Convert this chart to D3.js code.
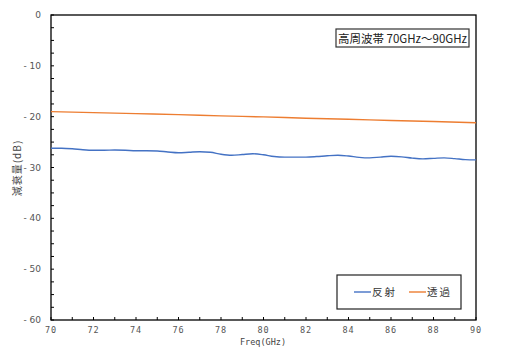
<!DOCTYPE html>
<html><head><meta charset="utf-8">
<script src="https://cdn.jsdelivr.net/npm/d3@7"></script>
<style>
html,body{margin:0;padding:0;background:#fff;}
svg{display:block;}
text{font-family:"Noto Sans CJK JP","DejaVu Sans",sans-serif;}
</style></head>
<body>
<svg id="chart" width="518" height="355"></svg>
<script>
const freqBlue = [70,70.5,71,71.5,72,72.5,73,73.5,74,74.5,75,75.5,76,76.5,77,77.5,78,78.5,79,79.5,80,80.5,81,81.5,82,82.5,83,83.5,84,84.5,85,85.5,86,86.5,87,87.5,88,88.5,89,89.5,90];
const reflect = [-26.2,-26.2,-26.3,-26.5,-26.6,-26.6,-26.55,-26.6,-26.7,-26.7,-26.75,-26.95,-27.1,-27.0,-26.9,-27.0,-27.4,-27.6,-27.45,-27.3,-27.5,-27.85,-27.95,-27.95,-27.95,-27.85,-27.7,-27.6,-27.75,-28.0,-28.1,-27.95,-27.8,-27.9,-28.15,-28.3,-28.2,-28.1,-28.25,-28.45,-28.5];
const freqOrange = [70,72,74,76,78,80,82,84,86,88,90];
const transmit = [-19.0,-19.2,-19.4,-19.6,-19.85,-20.05,-20.3,-20.5,-20.75,-20.95,-21.2];
const xTicks = [70,72,74,76,78,80,82,84,86,88,90];
const yTicks = [0,-10,-20,-30,-40,-50,-60];
const seriesNames = ["反射","透過"];
const colors = ["#4472C4","#ED7D31"];
const title = "高周波帯 70GHz〜90GHz";
const xLabel = "Freq(GHz)";
const yLabel = "減衰量(dB)";

const svg = d3.select("#chart");
const L=51, R=476, T=15, B=320;
const x = d3.scaleLinear().domain([70,90]).range([L,R]);
const y = d3.scaleLinear().domain([-60,0]).range([B,T]);
const mono = "'DejaVu Sans Mono','Liberation Mono',monospace";

// minor ticks
const g = svg.append("g");
d3.range(70,90.01,1).forEach(v=>{
  g.append("line").attr("x1",x(v)).attr("x2",x(v)).attr("y1",B).attr("y2",B-3).attr("stroke","#000").attr("stroke-width",1);
});
d3.range(-60,0.01,2.5).forEach(v=>{
  g.append("line").attr("x1",L).attr("x2",L+3).attr("y1",y(v)).attr("y2",y(v)).attr("stroke","#000").attr("stroke-width",1);
});

// frame
svg.append("rect").attr("x",L).attr("y",T).attr("width",R-L).attr("height",B-T)
  .attr("fill","none").attr("stroke","#000").attr("stroke-width",1.3);

// tick labels
svg.append("g").selectAll("text").data(xTicks).join("text")
  .attr("x",d=>x(d)).attr("y",B+13).attr("text-anchor","middle")
  .attr("font-size",8.5).attr("letter-spacing",1).attr("fill","#555")
  .style("font-family",mono).text(d=>d);
svg.append("g").selectAll("text").data(yTicks).join("text")
  .attr("x",L-10).attr("y",d=>y(d)+3).attr("text-anchor","end")
  .attr("font-size",9).attr("fill","#555")
  .style("font-family","'DejaVu Sans',sans-serif").text(d=>d===0?"0":"- "+Math.abs(d));

svg.append("text").attr("x",263).attr("y",345).attr("text-anchor","middle")
  .attr("font-size",8.5).attr("fill","#444")
  .style("font-family",mono).text(xLabel);
svg.append("text").attr("transform","translate(21,168) rotate(-90)").attr("text-anchor","middle")
  .attr("font-size",10).attr("letter-spacing",1).attr("fill","#444").text(yLabel);

// lines
const line = d3.line().x(d=>x(d[0])).y(d=>y(d[1])).curve(d3.curveMonotoneX);
svg.append("path").datum(freqOrange.map((f,i)=>[f,transmit[i]])).attr("d",line)
  .attr("fill","none").attr("stroke",colors[1]).attr("stroke-width",1.4);
svg.append("path").datum(freqBlue.map((f,i)=>[f,reflect[i]])).attr("d",line)
  .attr("fill","none").attr("stroke",colors[0]).attr("stroke-width",1.4);

// title box
svg.append("rect").attr("x",336).attr("y",29).attr("width",133).attr("height",18)
  .attr("fill","#fff").attr("stroke","#333").attr("stroke-width",1.2);
svg.append("text").attr("x",402.5).attr("y",42.5).attr("text-anchor","middle")
  .attr("font-size",11.5).attr("fill","#222").text(title);

// legend
svg.append("rect").attr("x",337).attr("y",275).attr("width",124).attr("height",34)
  .attr("fill","#fff").attr("stroke","#222").attr("stroke-width",1.2);
const lx = [354,409];
seriesNames.forEach((n,i)=>{
  svg.append("line").attr("x1",lx[i]).attr("x2",lx[i]+17).attr("y1",292).attr("y2",292)
    .attr("stroke",colors[i]).attr("stroke-width",1.4);
  svg.append("text").attr("x",lx[i]+18).attr("y",296).attr("font-size",10.5)
    .attr("letter-spacing",2).attr("fill","#333").text(n);
});
</script>
</body></html>
